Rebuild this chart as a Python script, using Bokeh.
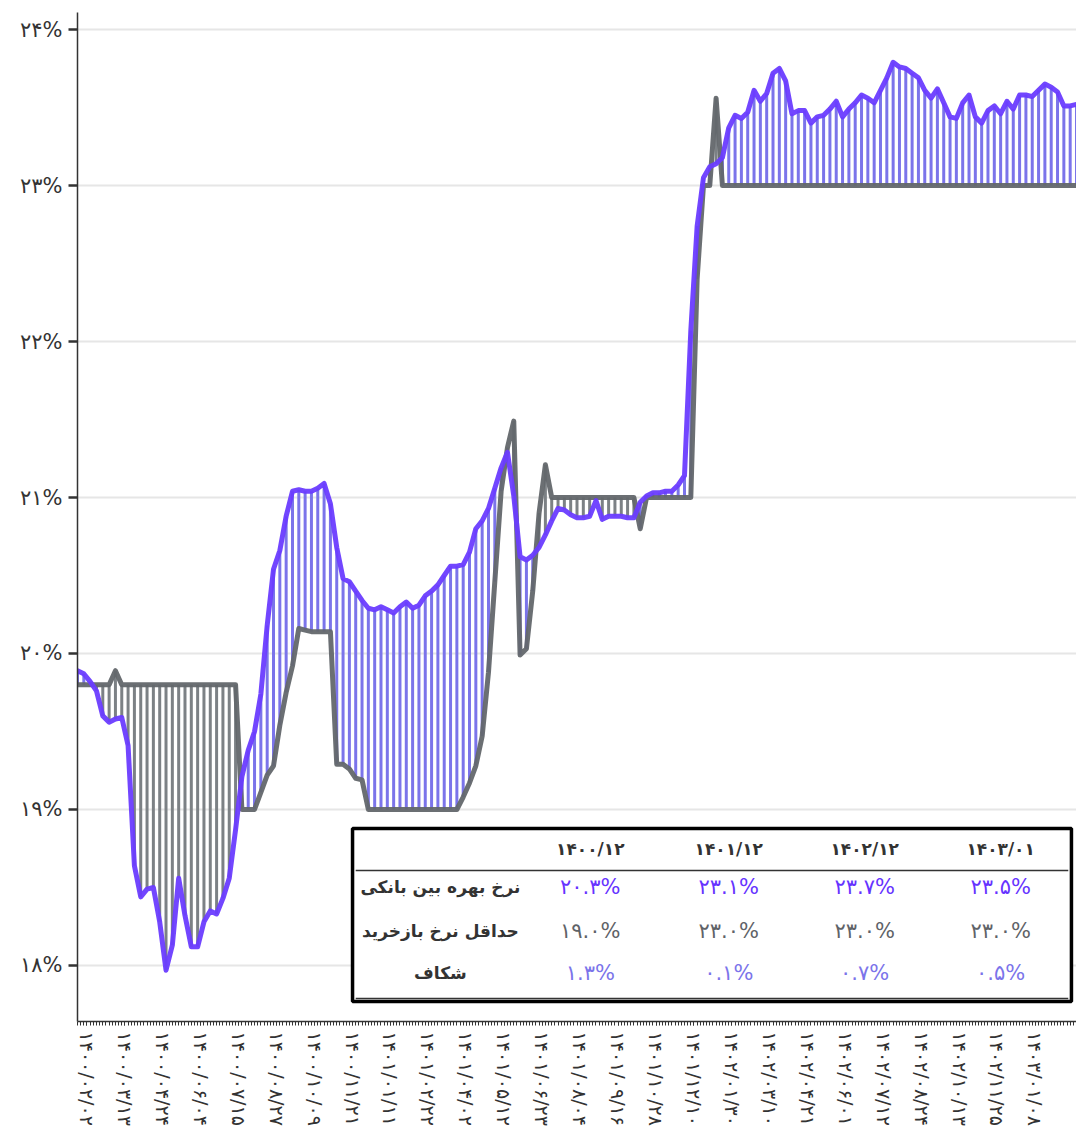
from bokeh.plotting import figure
from bokeh.models import FixedTicker, Range1d, ColumnDataSource
from bokeh.embed import file_html
from bokeh.resources import INLINE
from bokeh.core.properties import value

interbank = [
    19.89, 19.87, 19.82, 19.76, 19.60, 19.56, 19.58, 19.59, 19.41, 18.64,
    18.44, 18.49, 18.50, 18.28, 17.97, 18.13, 18.56, 18.32, 18.12, 18.12,
    18.28, 18.35, 18.33, 18.43, 18.56, 18.87, 19.21, 19.38, 19.50, 19.74,
    20.18, 20.54, 20.66, 20.88, 21.04, 21.05, 21.04, 21.04, 21.06, 21.09,
    20.96, 20.68, 20.48, 20.46, 20.40, 20.34, 20.29, 20.28, 20.30, 20.28,
    20.26, 20.30, 20.33, 20.29, 20.31, 20.37, 20.40, 20.44, 20.50, 20.56,
    20.56, 20.57, 20.65, 20.80, 20.85, 20.93, 21.06, 21.19, 21.29, 21.01,
    20.62, 20.60, 20.63, 20.68, 20.76, 20.85, 20.93, 20.92, 20.89, 20.87,
    20.87, 20.88, 20.98, 20.86, 20.88, 20.88, 20.88, 20.87, 20.87, 20.97,
    21.01, 21.03, 21.03, 21.04, 21.04, 21.08, 21.14, 22.07, 22.74, 23.05,
    23.12, 23.14, 23.18, 23.37, 23.45, 23.43, 23.47, 23.61, 23.54, 23.59,
    23.72, 23.75, 23.67, 23.46, 23.48, 23.48, 23.40, 23.44, 23.45, 23.49,
    23.54, 23.44, 23.49, 23.53, 23.58, 23.56, 23.53, 23.61, 23.69, 23.79,
    23.76, 23.75, 23.72, 23.69, 23.61, 23.56, 23.62, 23.53, 23.44, 23.43,
    23.53, 23.58, 23.44, 23.40, 23.48, 23.51, 23.46, 23.54, 23.49, 23.58,
    23.58, 23.57, 23.61, 23.65, 23.63, 23.60, 23.51, 23.51, 23.52,
]

repo = [
    19.8, 19.8, 19.8, 19.8, 19.8, 19.8, 19.89, 19.8, 19.8, 19.8,
    19.8, 19.8, 19.8, 19.8, 19.8, 19.8, 19.8, 19.8, 19.8, 19.8,
    19.8, 19.8, 19.8, 19.8, 19.8, 19.8, 19.0, 19.0, 19.0, 19.11,
    19.22, 19.28, 19.54, 19.75, 19.92, 20.16, 20.15, 20.14, 20.14, 20.14,
    20.14, 19.29, 19.29, 19.26, 19.20, 19.19, 19.0, 19.0, 19.0, 19.0,
    19.0, 19.0, 19.0, 19.0, 19.0, 19.0, 19.0, 19.0, 19.0, 19.0,
    19.0, 19.08, 19.17, 19.28, 19.47, 19.88, 20.46, 21.04, 21.32, 21.49,
    19.99, 20.03, 20.40, 20.90, 21.21, 21.0, 21.0, 21.0, 21.0, 21.0,
    21.0, 21.0, 21.0, 21.0, 21.0, 21.0, 21.0, 21.0, 21.0, 20.80,
    21.0, 21.0, 21.0, 21.0, 21.0, 21.0, 21.0, 21.0, 22.4, 23.0,
    23.0, 23.56, 23.0, 23.0, 23.0, 23.0, 23.0, 23.0, 23.0, 23.0,
    23.0, 23.0, 23.0, 23.0, 23.0, 23.0, 23.0, 23.0, 23.0, 23.0,
    23.0, 23.0, 23.0, 23.0, 23.0, 23.0, 23.0, 23.0, 23.0, 23.0,
    23.0, 23.0, 23.0, 23.0, 23.0, 23.0, 23.0, 23.0, 23.0, 23.0,
    23.0, 23.0, 23.0, 23.0, 23.0, 23.0, 23.0, 23.0, 23.0, 23.0,
    23.0, 23.0, 23.0, 23.0, 23.0, 23.0, 23.0, 23.0, 23.0,
]

date_labels = [
    "۱۴۰۰/۰۲/۰۲", "۱۴۰۰/۰۳/۱۳", "۱۴۰۰/۰۴/۲۴", "۱۴۰۰/۰۶/۰۴", "۱۴۰۰/۰۷/۱۵",
    "۱۴۰۰/۰۸/۲۷", "۱۴۰۰/۱۰/۰۹", "۱۴۰۰/۱۱/۲۱", "۱۴۰۱/۰۱/۱۱", "۱۴۰۱/۰۲/۲۲",
    "۱۴۰۱/۰۴/۰۲", "۱۴۰۱/۰۵/۱۲", "۱۴۰۱/۰۶/۲۳", "۱۴۰۱/۰۸/۰۴", "۱۴۰۱/۰۹/۱۶",
    "۱۴۰۱/۱۰/۲۸", "۱۴۰۱/۱۲/۱۰", "۱۴۰۲/۰۱/۳۰", "۱۴۰۲/۰۳/۱۰", "۱۴۰۲/۰۴/۲۱",
    "۱۴۰۲/۰۶/۰۱", "۱۴۰۲/۰۷/۱۲", "۱۴۰۲/۰۸/۲۴", "۱۴۰۲/۱۰/۱۳", "۱۴۰۲/۱۱/۲۵",
    "۱۴۰۳/۰۱/۰۸",
]
y_ticks = [18, 19, 20, 21, 22, 23, 24]

table_cols = ["۱۴۰۰/۱۲", "۱۴۰۱/۱۲", "۱۴۰۲/۱۲", "۱۴۰۳/۰۱"]
table_rows = ["نرخ بهره بین بانکی", "حداقل نرخ بازخرید", "شکاف"]
table_interbank = [20.3, 23.1, 23.7, 23.5]
table_repo = [19.0, 23.0, 23.0, 23.0]
table_gap = [1.3, 0.1, 0.7, 0.5]

# ---------------- helpers / styles ----------------
FA = str.maketrans("0123456789", "۰۱۲۳۴۵۶۷۸۹")


def fa(s):
    return s.translate(FA)


FONT = value("DejaVu Sans")
PURPLE = "#6a3cff"
GRAY = "#63676b"
SPIKE_BLUE = "#7b74ea"
SPIKE_GRAY = "#7c8185"
DARK = "#333333"

N = len(interbank)
xs = [2 * i for i in range(N)]          # half-week units; one observation per week
spike_colors = [SPIKE_BLUE if a >= b else SPIKE_GRAY for a, b in zip(interbank, repo)]

src = ColumnDataSource(dict(x=xs, ib=interbank, rp=repo, c=spike_colors))

p = figure(
    width=1076, height=1140,
    x_range=Range1d(0, xs[-1]), y_range=Range1d(17.641, 24.109),
    output_backend="svg", toolbar_location=None,
    min_border_left=77, min_border_right=0, min_border_top=12, min_border_bottom=119,
    background_fill_color="white", border_fill_color="white",
)
p.outline_line_color = None

# grid
p.xgrid.visible = False
p.ygrid.grid_line_color = "#e6e6e6"
p.ygrid.grid_line_width = 2

# y axis
ya = p.yaxis[0]
ya.ticker = FixedTicker(ticks=y_ticks, minor_ticks=[])
ya.major_label_overrides = {t: fa(f"{t}%") for t in y_ticks}
ya.major_label_text_font = "DejaVu Sans"
ya.major_label_text_font_size = "21px"
ya.major_label_text_color = DARK
ya.major_label_standoff = 6
ya.axis_line_color = DARK
ya.axis_line_width = 1.5
ya.major_tick_line_color = DARK
ya.major_tick_line_width = 2.5
ya.major_tick_out = 9
ya.major_tick_in = 0
ya.minor_tick_line_color = None

# x axis
xa = p.xaxis[0]
label_pos = [3 + 12 * k for k in range(len(date_labels))]
xa.ticker = FixedTicker(ticks=label_pos, minor_ticks=list(range(0, xs[-1] + 1)))
xa.major_label_overrides = {pos: lab for pos, lab in zip(label_pos, date_labels)}
xa.major_label_orientation = "vertical"
xa.major_label_text_font = "DejaVu Sans"
xa.major_label_text_font_size = "19px"
xa.major_label_text_color = DARK
xa.major_label_standoff = 6
xa.axis_line_color = DARK
xa.axis_line_width = 1.5
xa.major_tick_line_color = DARK
xa.minor_tick_line_color = DARK
xa.major_tick_out = 4
xa.major_tick_in = 0
xa.minor_tick_out = 4
xa.minor_tick_in = 0

# spikes between the two series
p.segment(x0="x", y0="rp", x1="x", y1="ib", source=src, line_color="c", line_width=3.0)

# lines
p.line("x", "rp", source=src, line_color=GRAY, line_width=5, line_alpha=0.95,
       line_join="round", line_cap="round")
p.line("x", "ib", source=src, line_color=PURPLE, line_width=5, line_alpha=0.95,
       line_join="round", line_cap="round")

# ---------------- summary table (layout positions in axis units) ----------------
tbl_left, tbl_right, tbl_top, tbl_bottom = 87.0, 314.4, 18.878, 17.769
col_x = [162.2, 206.0, 249.0, 292.0]
label_x = 114.8
row_y = [18.744, 18.50, 18.224, 17.949]
sep_y = [18.609, 17.788]

p.quad(left=[tbl_left], right=[tbl_right], top=[tbl_top], bottom=[tbl_bottom],
       fill_color="white", line_color="black", line_width=3.5)
p.segment(x0=[88.0, 88.0], x1=[313.4, 313.4], y0=sep_y, y1=sep_y,
          line_color=DARK, line_width=1.5)

# header
p.text(x=col_x, y=[row_y[0]] * 4, text=table_cols, text_font=FONT,
       text_font_size="17px", text_font_style="bold", text_color=DARK,
       text_align="center", text_baseline="middle")
# row labels
p.text(x=[label_x] * 3, y=row_y[1:], text=table_rows, text_font=FONT,
       text_font_size="17px", text_font_style="bold", text_color=DARK,
       text_align="center", text_baseline="middle")
# values
row_colors = ["#6633ff", "#5f6368", "#7b74ea"]
for vals, yy, col in zip([table_interbank, table_repo, table_gap], row_y[1:], row_colors):
    p.text(x=col_x, y=[yy] * 4, text=[fa(f"{v:.1f}%") for v in vals], text_font=FONT,
           text_font_size="21px", text_color=col,
           text_align="center", text_baseline="middle")

open("out.html", "w").write(file_html(p, INLINE))
